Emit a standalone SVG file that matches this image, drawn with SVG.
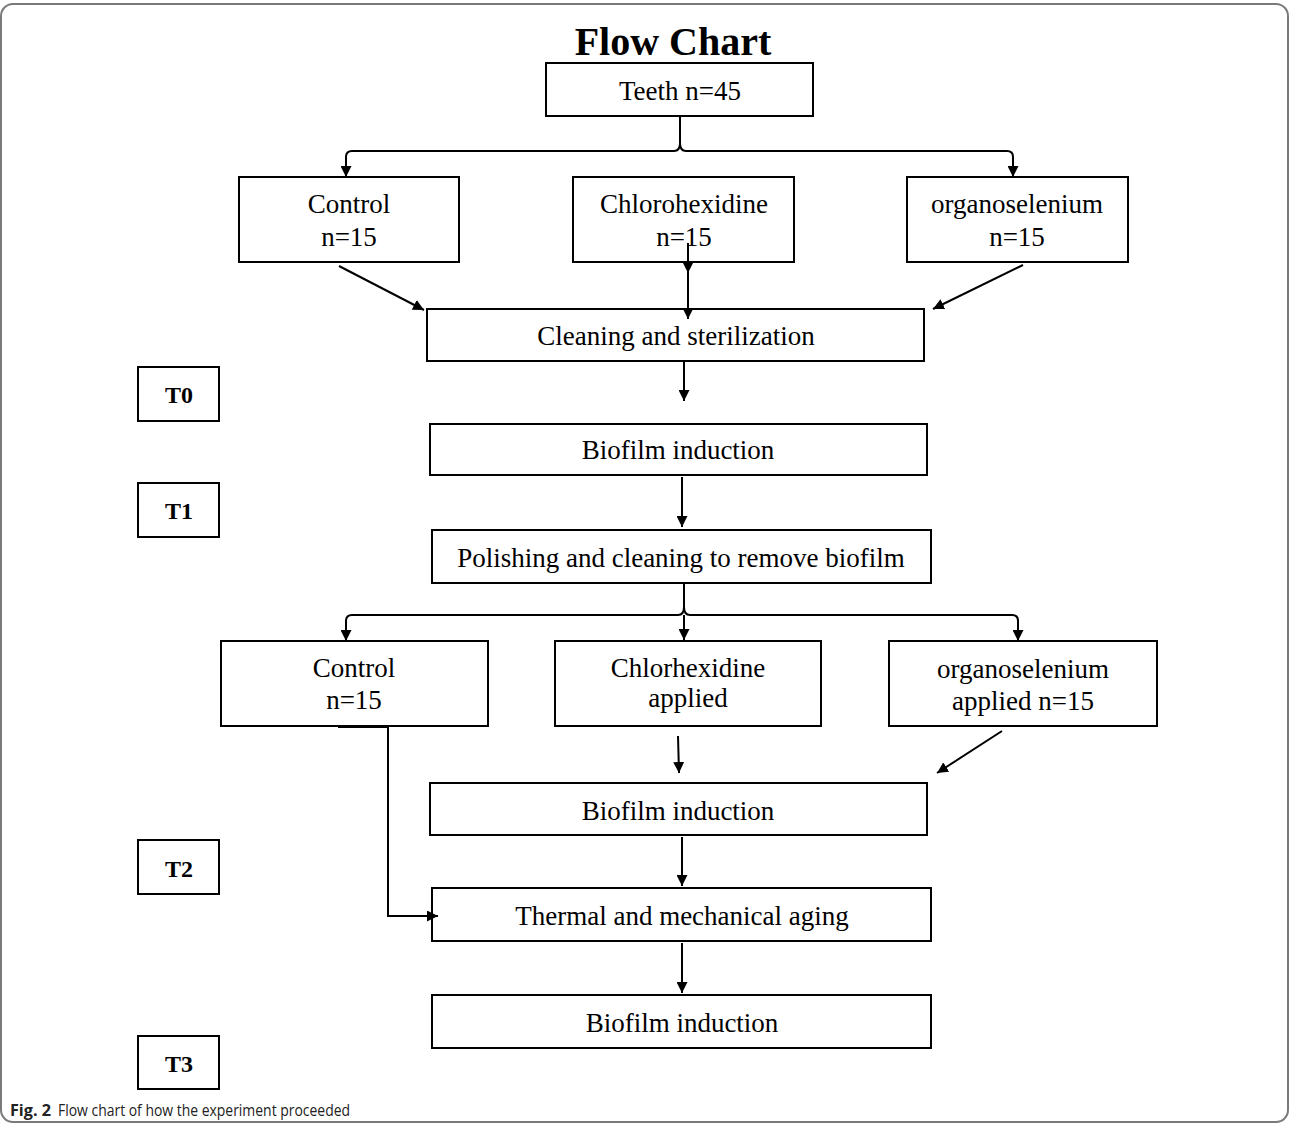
<svg xmlns="http://www.w3.org/2000/svg" width="1290" height="1125" viewBox="0 0 1290 1125">
<defs>
<marker id="ah" viewBox="0 0 10 10" refX="10" refY="5" markerWidth="11" markerHeight="11" markerUnits="userSpaceOnUse" orient="auto">
<path d="M0,0 L10,5 L0,10 Z" fill="#000"/>
</marker>
<style>
.box{fill:#fff;stroke:#000;stroke-width:2}
.t{font-family:"Liberation Serif","Times New Roman",serif;font-size:27px;fill:#000;text-anchor:middle}
.tb{font-family:"Liberation Serif","Times New Roman",serif;font-size:24px;font-weight:bold;fill:#000;text-anchor:middle}
.c{fill:none;stroke:#000;stroke-width:2}
.ca{fill:none;stroke:#000;stroke-width:2;marker-end:url(#ah)}
</style>
</defs>
<rect x="1" y="4" width="1287" height="1118" rx="12" fill="#fff" stroke="#7a7a7a" stroke-width="2"/>
<text x="673" y="55" font-family="'Liberation Serif', 'Times New Roman', serif" font-size="40" font-weight="bold" text-anchor="middle">Flow Chart</text>

<g id="teeth"><rect class="box" x="546" y="63" width="267" height="53"/><text class="t" x="680" y="100">Teeth n=45</text></g>
<g id="control1"><rect class="box" x="239" y="177" width="220" height="85"/><text class="t" x="349" y="213">Control</text><text class="t" x="349" y="246">n=15</text></g>
<g id="chx1"><rect class="box" x="573" y="177" width="221" height="85"/><text class="t" x="684" y="213">Chlorohexidine</text><text class="t" x="684" y="246">n=15</text></g>
<g id="orgse1"><rect class="box" x="907" y="177" width="221" height="85"/><text class="t" x="1017" y="213">organoselenium</text><text class="t" x="1017" y="246">n=15</text></g>
<g id="cleaning"><rect class="box" x="427" y="309" width="497" height="52"/><text class="t" x="676" y="345">Cleaning and sterilization</text></g>
<g id="t0"><rect class="box" x="138" y="367" width="81" height="54"/><text class="tb" x="179" y="403">T0</text></g>
<g id="biofilm1"><rect class="box" x="430" y="424" width="497" height="51"/><text class="t" x="678" y="459">Biofilm induction</text></g>
<g id="t1"><rect class="box" x="138" y="483" width="81" height="54"/><text class="tb" x="179" y="519">T1</text></g>
<g id="polishing"><rect class="box" x="432" y="530" width="499" height="53"/><text class="t" x="681" y="567">Polishing and cleaning to remove biofilm</text></g>
<g id="control2"><rect class="box" x="221" y="641" width="267" height="85"/><text class="t" x="354" y="677">Control</text><text class="t" x="354" y="709">n=15</text></g>
<g id="chx2"><rect class="box" x="555" y="641" width="266" height="85"/><text class="t" x="688" y="677">Chlorhexidine</text><text class="t" x="688" y="707">applied</text></g>
<g id="orgse2"><rect class="box" x="889" y="641" width="268" height="85"/><text class="t" x="1023" y="678">organoselenium</text><text class="t" x="1023" y="710">applied n=15</text></g>
<g id="biofilm2"><rect class="box" x="430" y="783" width="497" height="52"/><text class="t" x="678" y="820">Biofilm induction</text></g>
<g id="t2"><rect class="box" x="138" y="840" width="81" height="54"/><text class="tb" x="179" y="877">T2</text></g>
<g id="thermal"><rect class="box" x="432" y="888" width="499" height="53"/><text class="t" x="682" y="925">Thermal and mechanical aging</text></g>
<g id="biofilm3"><rect class="box" x="432" y="995" width="499" height="53"/><text class="t" x="682" y="1032">Biofilm induction</text></g>
<g id="t3"><rect class="box" x="138" y="1036" width="81" height="53"/><text class="tb" x="179" y="1072">T3</text></g>

<g id="connectors">
<path class="c" d="M680,117 V143 Q680,151 674,151 H352 Q346,151 346,157"/>
<path class="c" d="M680,143 Q680,151 686,151 H1007 Q1013,151 1013,157"/>
<path class="ca" d="M346,156 V177"/>
<path class="ca" d="M1013,156 V177"/>
<path class="ca" d="M339,266 L424,310"/>
<path class="ca" d="M688,243 V273"/>
<path class="ca" d="M688,270 V319"/>
<path class="ca" d="M1023,265 L933,309"/>
<path class="ca" d="M684,362 V401"/>
<path class="ca" d="M682,477 V527"/>
<path class="c" d="M684,584 V607 Q684,615 678,615 H352 Q346,615 346,621"/>
<path class="c" d="M684,607 Q684,615 690,615 H1012 Q1018,615 1018,621"/>
<path class="ca" d="M346,620 V641"/>
<path class="ca" d="M684,615 V640"/>
<path class="ca" d="M1018,620 V641"/>
<path class="ca" d="M678,736 L679,773"/>
<path class="ca" d="M1002,731 L937,773"/>
<path class="ca" d="M682,837 V886"/>
<path class="ca" d="M338,727 H388 V916 H438"/>
<path class="ca" d="M682,943 V993"/>
</g>

<text x="10" y="1116" font-family="'Open Sans', 'Liberation Sans', sans-serif" font-size="16" fill="#222"><tspan font-weight="bold" textLength="41" lengthAdjust="spacingAndGlyphs">Fig. 2</tspan><tspan x="58" textLength="292" lengthAdjust="spacingAndGlyphs">Flow chart of how the experiment proceeded</tspan></text>
</svg>
